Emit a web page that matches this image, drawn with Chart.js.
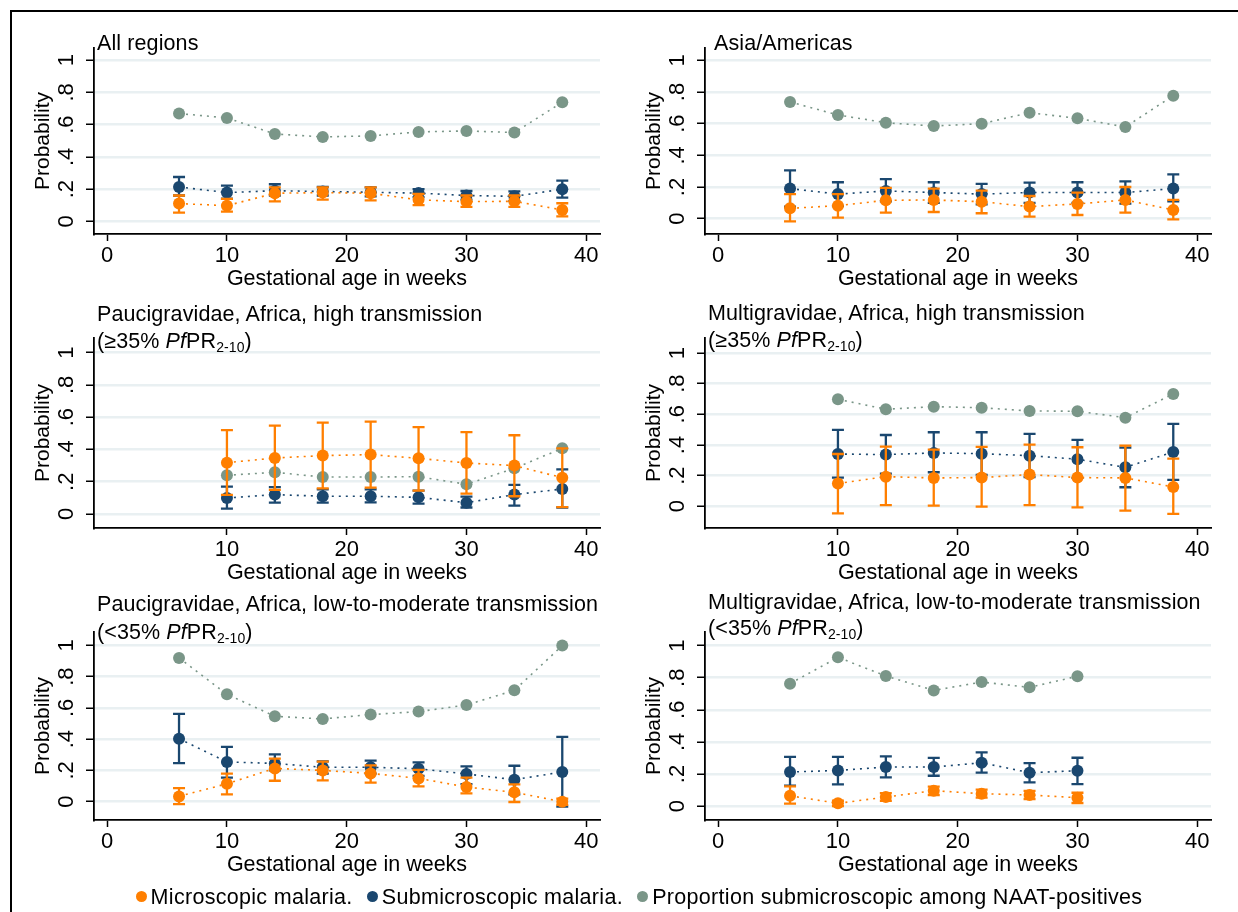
<!DOCTYPE html>
<html>
<head>
<meta charset="utf-8">
<script src="https://cdn.jsdelivr.net/npm/chart.js@4"></script>
<style>
  body { margin: 0; background: #fff; font-family: "Liberation Sans", Arial, sans-serif; }
  #page { position: relative; width: 1238px; height: 912px; overflow: hidden; }
  #frame { position: absolute; left: 10px; top: 10px; width: 1240px; height: 920px; border-left: 2px solid #000; border-top: 2px solid #000; }
  canvas { position: absolute; }
  .ttl { position: absolute; font-size: 21.5px; line-height: 24px; color: #000; white-space: nowrap; letter-spacing: 0.1px; }
  .ttl sub { font-size: 14px; vertical-align: -4px; line-height: 0; }
  #legend { position: absolute; left: 20px; width: 1238px; top: 884px; text-align: center; font-size: 21.5px; line-height: 26px; color: #000; letter-spacing: 0.3px; white-space: nowrap; }
  #legend span.dot { display: inline-block; width: 11px; height: 11px; border-radius: 50%; margin: 0 4px 3px 0; vertical-align: middle; }
  #legend span.item { margin: 0 4px; }
</style>
</head>
<body>
<div id="page">
  <div id="frame"></div>
  <canvas id="c1"></canvas><canvas id="c2"></canvas>
  <canvas id="c3"></canvas><canvas id="c4"></canvas>
  <canvas id="c5"></canvas><canvas id="c6"></canvas>
  <div class="ttl" style="left:97px;top:31px">All regions</div>
  <div class="ttl" style="left:714px;top:31px">Asia/Americas</div>
  <div class="ttl" style="left:97px;top:302px">Paucigravidae, Africa, high transmission</div>
  <div class="ttl" style="left:97px;top:329px">(≥35% <i>Pf</i>PR<sub>2-10</sub>)</div>
  <div class="ttl" style="left:708px;top:301px">Multigravidae, Africa, high transmission</div>
  <div class="ttl" style="left:708px;top:328px">(≥35% <i>Pf</i>PR<sub>2-10</sub>)</div>
  <div class="ttl" style="left:97px;top:592px">Paucigravidae, Africa, low-to-moderate transmission</div>
  <div class="ttl" style="left:97px;top:620px">(&lt;35% <i>Pf</i>PR<sub>2-10</sub>)</div>
  <div class="ttl" style="left:708px;top:590px">Multigravidae, Africa, low-to-moderate transmission</div>
  <div class="ttl" style="left:708px;top:616px">(&lt;35% <i>Pf</i>PR<sub>2-10</sub>)</div>
  <div id="legend">
    <span class="item"><span class="dot" style="background:#ff7f00"></span>Microscopic malaria.</span>
    <span class="item"><span class="dot" style="background:#1a476f"></span>Submicroscopic malaria.</span>
    <span class="item"><span class="dot" style="background:#7a9688"></span>Proportion submicroscopic among NAAT-positives</span>
  </div>
</div>
<script>
// gestational age (weeks) per panel
var weeksAll = [6, 10, 14, 18, 22, 26, 30, 34, 38];
var weeksHigh = [10, 14, 18, 22, 26, 30, 34, 38];
var weeksMultiLow = [6, 10, 14, 18, 22, 26, 30];

var xTicksFull = [0, 10, 20, 30, 40];
var xTicksHigh = [10, 20, 30, 40];
var yTicks = [0, 0.2, 0.4, 0.6, 0.8, 1];

// panel 1: All regions
var p1Micro   = [0.11, 0.097, 0.174, 0.178, 0.174, 0.133, 0.122, 0.124, 0.07];
var p1MicroLo = [0.054, 0.06, 0.124, 0.135, 0.13, 0.10, 0.09, 0.09, 0.03];
var p1MicroHi = [0.16, 0.139, 0.21, 0.21, 0.21, 0.17, 0.16, 0.16, 0.112];
var p1Sub     = [0.213, 0.178, 0.19, 0.185, 0.18, 0.175, 0.16, 0.155, 0.199];
var p1SubLo   = [0.16, 0.14, 0.16, 0.16, 0.155, 0.15, 0.135, 0.125, 0.147];
var p1SubHi   = [0.275, 0.222, 0.23, 0.213, 0.21, 0.20, 0.188, 0.186, 0.253];
var p1Prop    = [0.669, 0.642, 0.542, 0.524, 0.53, 0.555, 0.561, 0.551, 0.739];

// panel 2: Asia/Americas
var p2Micro   = [0.065, 0.082, 0.116, 0.118, 0.107, 0.076, 0.093, 0.118, 0.055];
var p2MicroLo = [-0.017, 0.006, 0.038, 0.042, 0.034, 0.013, 0.023, 0.038, -0.004];
var p2MicroHi = [0.155, 0.155, 0.195, 0.19, 0.177, 0.143, 0.165, 0.20, 0.118];
var p2Sub     = [0.19, 0.155, 0.175, 0.165, 0.155, 0.165, 0.165, 0.165, 0.19];
var p2SubLo   = [0.075, 0.08, 0.11, 0.10, 0.09, 0.10, 0.10, 0.095, 0.11];
var p2SubHi   = [0.305, 0.23, 0.25, 0.23, 0.22, 0.227, 0.23, 0.235, 0.28];
var p2Prop    = [0.737, 0.655, 0.606, 0.585, 0.60, 0.669, 0.634, 0.579, 0.777];

// panel 3: Paucigravidae, Africa, high transmission
var p3Micro   = [0.318, 0.347, 0.362, 0.368, 0.345, 0.316, 0.30, 0.225];
var p3MicroLo = [0.118, 0.149, 0.159, 0.163, 0.145, 0.126, 0.11, 0.043];
var p3MicroHi = [0.52, 0.548, 0.566, 0.572, 0.539, 0.508, 0.488, 0.407];
var p3Sub     = [0.099, 0.12, 0.11, 0.11, 0.103, 0.07, 0.12, 0.155];
var p3SubLo   = [0.033, 0.07, 0.07, 0.072, 0.064, 0.04, 0.052, 0.04];
var p3SubHi   = [0.169, 0.167, 0.153, 0.153, 0.145, 0.107, 0.18, 0.277];
var p3Prop    = [0.24, 0.258, 0.229, 0.229, 0.231, 0.184, 0.283, 0.407];

// panel 4: Multigravidae, Africa, high transmission
var p4Micro   = [0.148, 0.193, 0.185, 0.187, 0.207, 0.187, 0.185, 0.126];
var p4MicroLo = [-0.046, 0.007, 0.004, -0.002, 0.007, -0.007, -0.028, -0.05];
var p4MicroHi = [0.341, 0.389, 0.37, 0.387, 0.402, 0.385, 0.396, 0.311];
var p4Sub     = [0.341, 0.337, 0.348, 0.343, 0.33, 0.307, 0.254, 0.354];
var p4SubLo   = [0.187, 0.213, 0.222, 0.204, 0.191, 0.185, 0.124, 0.172];
var p4SubHi   = [0.498, 0.465, 0.483, 0.483, 0.472, 0.433, 0.383, 0.537];
var p4Prop    = [0.698, 0.633, 0.65, 0.643, 0.622, 0.62, 0.578, 0.733];

// panel 5: Paucigravidae, Africa, low-to-moderate transmission
var p5Micro   = [0.034, 0.115, 0.213, 0.20, 0.181, 0.149, 0.094, 0.06, 0.0];
var p5MicroLo = [-0.015, 0.047, 0.134, 0.136, 0.122, 0.098, 0.053, -0.002, -0.02];
var p5MicroHi = [0.087, 0.18, 0.275, 0.256, 0.232, 0.203, 0.154, 0.111, 0.02];
var p5Sub     = [0.403, 0.254, 0.245, 0.22, 0.22, 0.211, 0.177, 0.141, 0.19];
var p5SubLo   = [0.247, 0.154, 0.20, 0.18, 0.18, 0.165, 0.113, 0.047, -0.032];
var p5SubHi   = [0.561, 0.35, 0.303, 0.258, 0.262, 0.252, 0.226, 0.23, 0.414];
var p5Prop    = [0.919, 0.687, 0.546, 0.529, 0.557, 0.576, 0.618, 0.712, 0.998];

// panel 6: Multigravidae, Africa, low-to-moderate transmission
var p6Micro   = [0.064, 0.017, 0.056, 0.096, 0.077, 0.069, 0.052];
var p6MicroLo = [0.015, 0.0, 0.033, 0.069, 0.052, 0.044, 0.019];
var p6MicroHi = [0.123, 0.033, 0.081, 0.121, 0.102, 0.094, 0.083];
var p6Sub     = [0.212, 0.222, 0.243, 0.243, 0.27, 0.208, 0.22];
var p6SubLo   = [0.127, 0.135, 0.179, 0.189, 0.208, 0.148, 0.137];
var p6SubHi   = [0.306, 0.306, 0.31, 0.30, 0.335, 0.268, 0.301];
var p6Prop    = [0.763, 0.927, 0.811, 0.721, 0.773, 0.74, 0.809];

var ORANGE = '#ff7f00', NAVY = '#1a476f', SAGE = '#7a9688', GRID = '#e9f0f2';

Chart.defaults.font.family = '"Liberation Sans", Arial, sans-serif';
Chart.defaults.color = '#000';

// vertical CI bars with caps, drawn right before each dataset's own points
var errorBars = {
  id: 'errorBars',
  beforeDatasetDraw: function (chart, args) {
    var ds = chart.data.datasets[args.index];
    if (!ds.errLo) return;
    var ctx = chart.ctx, x = chart.scales.x, y = chart.scales.y;
    ctx.save();
    ctx.strokeStyle = ds.pointBackgroundColor;
    ctx.lineWidth = 2.3;
    ds.data.forEach(function (d, i) {
      var px = x.getPixelForValue(d.x);
      var lo = y.getPixelForValue(ds.errLo[i]);
      var hi = y.getPixelForValue(ds.errHi[i]);
      ctx.beginPath();
      ctx.moveTo(px, lo); ctx.lineTo(px, hi);
      ctx.moveTo(px - 6, lo); ctx.lineTo(px + 6, lo);
      ctx.moveTo(px - 6, hi); ctx.lineTo(px + 6, hi);
      ctx.stroke();
    });
    ctx.restore();
  }
};

// Stata-style y labels, rotated and centred on the tick
var yLabels = {
  id: 'yLabels',
  afterDraw: function (chart) {
    var ctx = chart.ctx, y = chart.scales.y;
    ctx.save();
    ctx.font = '22px "Liberation Sans", Arial, sans-serif';
    ctx.fillStyle = '#000';
    ctx.textAlign = 'center';
    ctx.textBaseline = 'middle';
    y.ticks.forEach(function (t) {
      var py = y.getPixelForValue(t.value);
      ctx.save();
      ctx.translate(chart.chartArea.left - 27, py);
      ctx.rotate(-Math.PI / 2);
      ctx.fillText(t.value === 0 ? '0' : (t.value === 1 ? '1' : String(t.value).replace(/^0/, '')), 0, 0);
      ctx.restore();
    });
    ctx.restore();
  }
};

function series(weeks, vals, color, lo, hi) {
  return {
    data: weeks.map(function (w, i) { return { x: w, y: vals[i] }; }),
    showLine: true,
    borderColor: color,
    borderWidth: 1.6,
    borderDash: [2, 5],
    pointRadius: 6,
    pointBorderWidth: 0,
    pointBackgroundColor: color,
    errLo: lo,
    errHi: hi
  };
}

function panel(id, box, weeks, xTicks, yMin, yMax, micro, microLo, microHi, sub, subLo, subHi, prop) {
  var cv = document.getElementById(id);
  cv.style.left = box[0] + 'px';
  cv.style.top = box[1] + 'px';
  cv.width = box[2];
  cv.height = box[3];
  new Chart(cv, {
    type: 'scatter',
    data: {
      datasets: [
        series(weeks, micro, ORANGE, microLo, microHi),
        series(weeks, sub, NAVY, subLo, subHi),
        series(weeks, prop, SAGE)
      ]
    },
    options: {
      responsive: false,
      animation: false,
      events: [],
      layout: { padding: { top: box[4], right: box[5], left: 0, bottom: 0 } },
      plugins: { legend: { display: false }, tooltip: { enabled: false } },
      scales: {
        x: {
          type: 'linear', min: -1.1, max: 41.15,
          afterBuildTicks: function (s) { s.ticks = xTicks.map(function (v) { return { value: v }; }); },
          afterFit: function (s) { s.height = 66; },
          ticks: { font: { size: 22 }, padding: 2, autoSkip: false, maxRotation: 0 },
          grid: { drawOnChartArea: false, tickColor: '#000', tickLength: 7, tickWidth: 1.5 },
          border: { color: '#000', width: 1.8 },
          title: { display: true, text: 'Gestational age in weeks', font: { size: 21.5 }, padding: { top: 0, bottom: 8 } }
        },
        y: {
          min: yMin, max: yMax,
          afterBuildTicks: function (s) { s.ticks = yTicks.map(function (v) { return { value: v }; }); },
          afterFit: function (s) { s.width = 94; },
          ticks: { display: false },
          grid: { color: GRID, lineWidth: 2.5, tickColor: '#000', tickLength: 8, tickWidth: 1.5 },
          border: { color: '#000', width: 1.8 },
          title: { display: true, text: 'Probability', font: { size: 21 }, padding: { top: 31, bottom: 0 } }
        }
      }
    },
    plugins: [errorBars, yLabels]
  });
}

// box: left, top, width, height, padTop, padRight
panel('c1', [0, 0, 606, 300, 48, 6], weeksAll, xTicksFull, -0.079, 1.076, p1Micro, p1MicroLo, p1MicroHi, p1Sub, p1SubLo, p1SubHi, p1Prop);
panel('c2', [611, 0, 627, 300, 48, 27], weeksAll, xTicksFull, -0.097, 1.078, p2Micro, p2MicroLo, p2MicroHi, p2Sub, p2SubLo, p2SubHi, p2Prop);
panel('c3', [0, 300, 606, 294, 38, 6], weeksHigh, xTicksHigh, -0.087, 1.091, p3Micro, p3MicroLo, p3MicroHi, p3Sub, p3SubLo, p3SubHi, p3Prop);
panel('c4', [611, 300, 627, 294, 38, 27], weeksHigh, xTicksHigh, -0.142, 1.098, p4Micro, p4MicroLo, p4MicroHi, p4Sub, p4SubLo, p4SubHi, p4Prop);
panel('c5', [0, 594, 606, 292, 38, 6], weeksAll, xTicksFull, -0.117, 1.085, p5Micro, p5MicroLo, p5MicroHi, p5Sub, p5SubLo, p5SubHi, p5Prop);
panel('c6', [611, 594, 627, 292, 38, 27], weeksMultiLow, xTicksFull, -0.087, 1.085, p6Micro, p6MicroLo, p6MicroHi, p6Sub, p6SubLo, p6SubHi, p6Prop);
</script>
</body>
</html>
